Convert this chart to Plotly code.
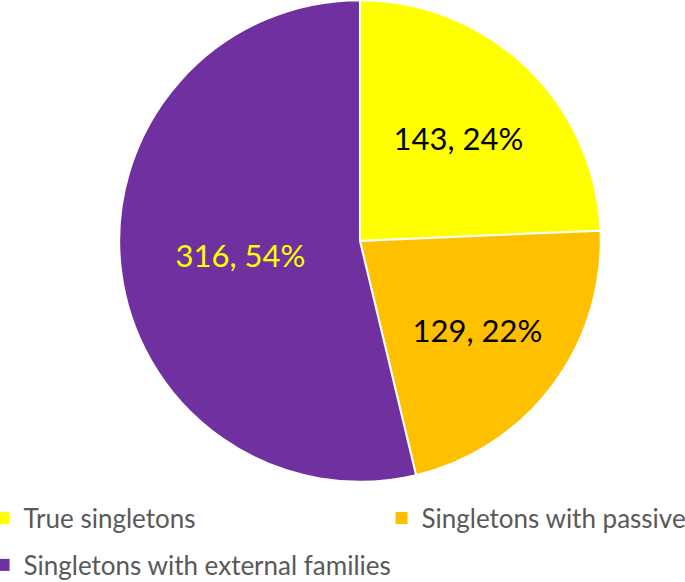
import plotly.graph_objects as go

categories = ["True singletons", "Singletons with passive", "Singletons with external families"]
counts = [143, 129, 316]
slice_colors = ["#FFFF00", "#FFC000", "#7030A0"]
label_colors = ["#000000", "#000000", "#FFFF00"]
legend_ids = ["legend", "legend2", "legend"]

fig = go.Figure()
fig.add_trace(go.Pie(
    labels=categories,
    values=counts,
    sort=False,
    direction="clockwise",
    rotation=0,
    marker=dict(colors=slice_colors, line=dict(color="white", width=2)),
    texttemplate="%{value}, %{percent:.0%}",
    textposition="inside",
    insidetextorientation="horizontal",
    textfont=dict(family="Lato", size=31, color=label_colors),
    hoverinfo="label+value+percent",
    domain=dict(x=[0.174, 0.877], y=[0.172, 1.0]),
    showlegend=False,
))

# legend entries, laid out like the original two-column legend
for name, color, lg in zip(categories, slice_colors, legend_ids):
    fig.add_trace(go.Scatter(
        x=[None], y=[None], mode="markers", name=name,
        marker=dict(symbol="square", size=12, color=color),
        legend=lg, legendgroup=name,
    ))

legend_style = dict(
    orientation="v",
    yanchor="top",
    xanchor="left",
    tracegroupgap=10,
    bgcolor="rgba(0,0,0,0)",
    font=dict(family="Lato", size=26, color="#595959"),
)

fig.update_layout(
    width=685,
    height=582,
    margin=dict(l=0, r=0, t=0, b=0, autoexpand=False),
    paper_bgcolor="white",
    plot_bgcolor="white",
    font=dict(family="Lato"),
    xaxis=dict(visible=False),
    yaxis=dict(visible=False),
    legend=dict(x=-0.024, y=0.15, **legend_style),
    legend2=dict(x=0.557, y=0.15, **legend_style),
)

# drop the default body margin so the figure fills the window exactly
fig.write_html("out.html", config={"displayModeBar": False},
               post_script="document.body.style.margin='0';")
